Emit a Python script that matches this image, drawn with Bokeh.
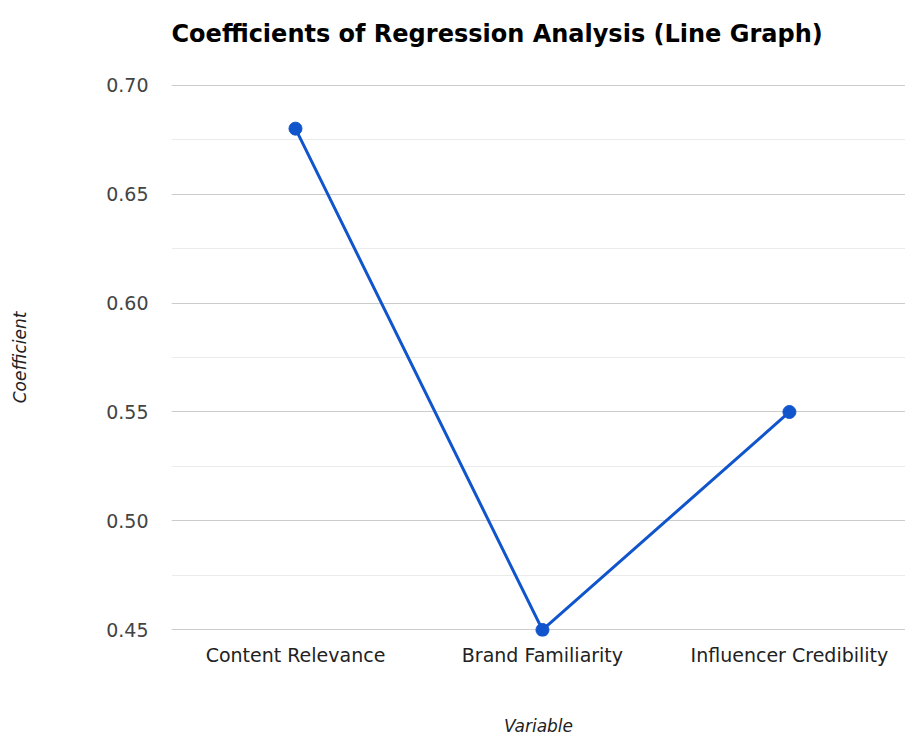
from bokeh.plotting import figure
from bokeh.models import FixedTicker, Range1d, NumeralTickFormatter
from bokeh.embed import file_html
from bokeh.resources import INLINE

# ---- data ----
categories = ["Content Relevance", "Brand Familiarity", "Influencer Credibility"]
coefficients = [0.68, 0.45, 0.55]
y_ticks = [0.45, 0.50, 0.55, 0.60, 0.65, 0.70]
y_minor_ticks = [0.475, 0.525, 0.575, 0.625, 0.675]
chart_title = "Coefficients of Regression Analysis (Line Graph)"
x_title = "Variable"
y_title = "Coefficient"

xs = list(range(len(categories)))
FONT = "DejaVu Sans"
BLUE = "#1155cc"

p = figure(
    width=905, height=738,
    output_backend="svg", toolbar_location=None,
    x_range=Range1d(-0.502, 2.47), y_range=Range1d(0.447, 0.703),
    min_border_left=171, min_border_right=0, min_border_top=78, min_border_bottom=102,
)

p.title.text = chart_title
p.title.text_font = FONT
p.title.text_font_size = "24px"
p.title.text_font_style = "bold"
p.title.text_color = "#000000"
p.title.align = "left"
p.title.standoff = 0
p.title.padding = dict(left=0, right=0, top=0, bottom=31)

p.outline_line_color = None
p.background_fill_color = "white"
p.border_fill_color = "white"

# grid
p.xgrid.visible = False
p.ygrid.ticker = FixedTicker(ticks=y_ticks, minor_ticks=y_minor_ticks)
p.ygrid.grid_line_color = "#cccccc"
p.ygrid.grid_line_width = 1
p.ygrid.minor_grid_line_color = "#ebebeb"

# y axis
ya = p.yaxis[0]
ya.ticker = FixedTicker(ticks=y_ticks)
ya.formatter = NumeralTickFormatter(format="0.00")
ya.axis_line_color = None
ya.major_tick_line_color = None
ya.minor_tick_line_color = None
ya.major_tick_out = 0
ya.major_tick_in = 0
ya.major_label_standoff = 23
ya.major_label_text_font = FONT
ya.major_label_text_font_size = "19px"
ya.major_label_text_color = "#444444"
ya.axis_label = y_title
ya.axis_label_text_font = FONT
ya.axis_label_text_font_size = "17px"
ya.axis_label_text_font_style = "italic"
ya.axis_label_text_color = "#222222"
ya.axis_label_standoff = 73

# x axis
xa = p.xaxis[0]
xa.ticker = FixedTicker(ticks=xs)
xa.major_label_overrides = {i: c for i, c in zip(xs, categories)}
xa.axis_line_color = None
xa.major_tick_line_color = None
xa.minor_tick_line_color = None
xa.major_tick_out = 0
xa.major_tick_in = 0
xa.major_label_standoff = 7
xa.major_label_text_font = FONT
xa.major_label_text_font_size = "19px"
xa.major_label_text_color = "#222222"
xa.axis_label = x_title
xa.axis_label_text_font = FONT
xa.axis_label_text_font_size = "17px"
xa.axis_label_text_font_style = "italic"
xa.axis_label_text_color = "#222222"
xa.axis_label_standoff = 47

p.line(xs, coefficients, line_color=BLUE, line_width=3)
p.scatter(xs, coefficients, size=13, fill_color=BLUE, line_color=BLUE)

open("out.html", "w").write(file_html(p, INLINE))
